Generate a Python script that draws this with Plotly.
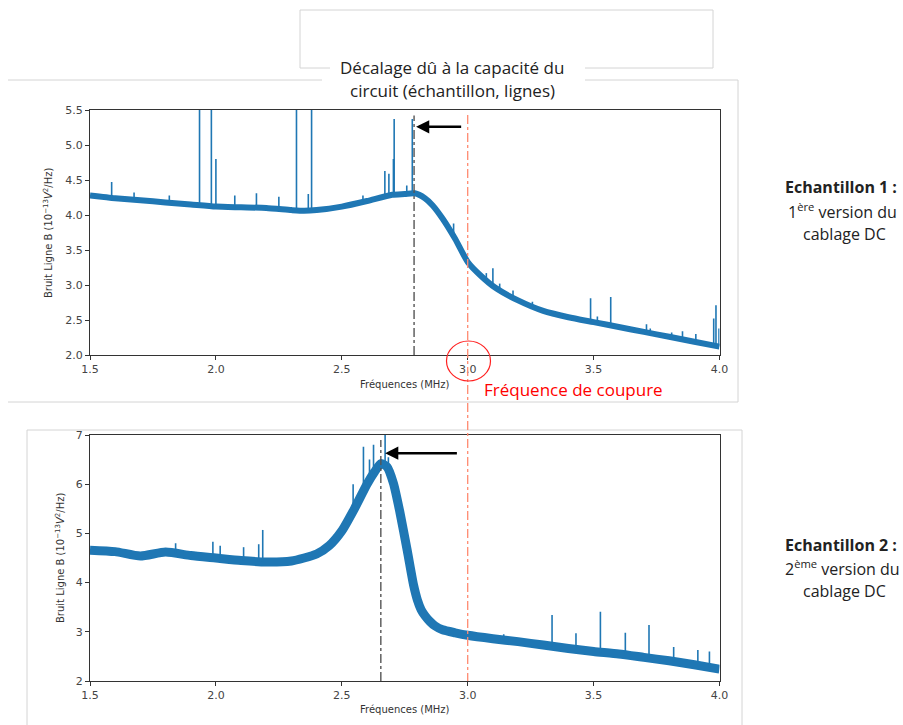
import numpy as np
import plotly.graph_objects as go

# ---------------- data ----------------
# Sample 1 (top) baseline spectrum, MHz -> 1e-13 V^2/Hz
freq_top = [1.5, 1.6, 1.7, 1.8, 1.9, 2.0, 2.1, 2.2, 2.3, 2.35, 2.4, 2.5, 2.6, 2.7, 2.75, 2.79,
            2.83, 2.86, 2.9, 2.95, 3.0, 3.05, 3.11, 3.2, 3.3, 3.4, 3.5, 3.6, 3.7, 3.8, 3.9, 4.0]
noise_top = [4.28, 4.24, 4.21, 4.18, 4.15, 4.12, 4.11, 4.10, 4.07, 4.06, 4.07, 4.12, 4.20, 4.29, 4.30, 4.31,
             4.24, 4.14, 3.95, 3.66, 3.33, 3.14, 2.96, 2.78, 2.63, 2.54, 2.47, 2.40, 2.33, 2.26, 2.19, 2.12]
spike_f_top = [1.586, 1.675, 1.815, 1.935, 1.982, 2.0, 2.075, 2.161, 2.25, 2.32, 2.367, 2.38, 2.584,
               2.671, 2.687, 2.705, 2.708, 2.758, 2.78, 2.944, 3.074, 3.1, 3.127, 3.18, 3.257, 3.488,
               3.515, 3.568, 3.71, 3.725, 3.81, 3.853, 3.906, 3.977, 3.986, 3.998]
spike_v_top = [4.47, 4.32, 4.28, 5.8, 5.8, 4.80, 4.28, 4.31, 4.26, 5.8, 4.30, 5.8, 4.28,
               4.63, 4.59, 4.80, 5.37, 4.42, 5.37, 3.88, 3.17, 3.24, 3.02, 2.92, 2.76, 2.81,
               2.55, 2.83, 2.44, 2.38, 2.32, 2.34, 2.30, 2.52, 2.71, 2.38]

# Sample 2 (bottom)
freq_bot = [1.5, 1.6, 1.7, 1.8, 1.9, 2.0, 2.1, 2.2, 2.3, 2.35, 2.4, 2.45, 2.5, 2.55, 2.6, 2.63, 2.655,
            2.68, 2.705, 2.73, 2.76, 2.785, 2.8, 2.815, 2.83, 2.85, 2.87, 2.9, 2.95, 3.0, 3.1, 3.2, 3.3,
            3.4, 3.5, 3.6, 3.7, 3.8, 3.9, 4.0]
noise_bot = [4.66, 4.63, 4.54, 4.62, 4.55, 4.50, 4.45, 4.42, 4.44, 4.50, 4.58, 4.75, 5.05, 5.50, 6.00,
             6.25, 6.42, 6.35, 6.02, 5.45, 4.65, 3.95, 3.65, 3.45, 3.33, 3.21, 3.12, 3.04, 2.98, 2.93,
             2.86, 2.80, 2.73, 2.66, 2.60, 2.55, 2.48, 2.41, 2.33, 2.24]
spike_f_bot = [1.84, 1.988, 2.017, 2.11, 2.17, 2.186, 2.545, 2.586, 2.61, 2.626, 2.672, 2.685,
               3.143, 3.335, 3.43, 3.527, 3.626, 3.72, 3.818, 3.914, 3.96]
spike_v_bot = [4.80, 4.83, 4.75, 4.72, 4.78, 5.07, 6.0, 6.76, 6.5, 6.8, 7.3, 6.55,
               2.95, 3.34, 2.97, 3.41, 2.98, 3.14, 2.69, 2.63, 2.60]

peak_top = 2.787      # MHz, dash-dot marker sample 1
peak_bot = 2.655      # MHz, dash-dot marker sample 2
cutoff = 3.0          # MHz, cut-off frequency

x_ticks = [1.5, 2.0, 2.5, 3.0, 3.5, 4.0]
y_ticks_top = [2.0, 2.5, 3.0, 3.5, 4.0, 4.5, 5.0, 5.5]
y_ticks_bot = [2, 3, 4, 5, 6, 7]

# ---------------- helpers ----------------
W, H = 903, 725
def px(x):
    return x / W
def py(y):
    return 1 - y / H

BLUE = "#1f77b4"
GRAY = "#d4d4d4"
FONT = "DejaVu Sans"

def spikes(fs, vs, bf, bv):
    xs, ys = [], []
    base = np.interp(fs, bf, bv)
    for f, v, b in zip(fs, vs, base):
        xs += [f, f, None]
        ys += [b, v, None]
    return xs, ys

fig = go.Figure()
fig.add_trace(go.Scatter(x=freq_top, y=noise_top, mode="lines",
                         line=dict(color=BLUE, width=6, shape="spline", smoothing=0.6),
                         xaxis="x", yaxis="y", hoverinfo="skip"))
sx, sy = spikes(spike_f_top, spike_v_top, freq_top, noise_top)
fig.add_trace(go.Scatter(x=sx, y=sy, mode="lines", line=dict(color=BLUE, width=1.6),
                         xaxis="x", yaxis="y", hoverinfo="skip"))
fig.add_trace(go.Scatter(x=freq_bot, y=noise_bot, mode="lines",
                         line=dict(color=BLUE, width=9, shape="spline", smoothing=0.6),
                         xaxis="x2", yaxis="y2", hoverinfo="skip"))
sx, sy = spikes(spike_f_bot, spike_v_bot, freq_bot, noise_bot)
fig.add_trace(go.Scatter(x=sx, y=sy, mode="lines", line=dict(color=BLUE, width=1.6),
                         xaxis="x2", yaxis="y2", hoverinfo="skip"))

axis_common = dict(showline=True, linecolor="#333", linewidth=1, mirror=True, ticks="outside",
                   ticklen=4, tickcolor="#333", showgrid=False, zeroline=False, automargin=False,
                   tickfont=dict(family=FONT, size=11, color="#444"))
xdom = [px(90), px(719.5)]
fig.update_layout(
    width=W, height=H, margin=dict(l=0, r=0, t=0, b=0, autoexpand=False),
    paper_bgcolor="white", plot_bgcolor="white", showlegend=False,
    xaxis=dict(domain=xdom, range=[1.5, 4.0], tickvals=x_ticks, tickformat=".1f", anchor="y", **axis_common),
    yaxis=dict(domain=[py(355), py(110)], range=[2.0, 5.5], tickvals=y_ticks_top, tickformat=".1f",
               anchor="x", **axis_common),
    xaxis2=dict(domain=xdom, range=[1.5, 4.0], tickvals=x_ticks, tickformat=".1f", anchor="y2", **axis_common),
    yaxis2=dict(domain=[py(681), py(435)], range=[2, 7], tickvals=y_ticks_bot, anchor="x2", **axis_common),
)

shapes = []
def seg(x0, y0, x1, y1, color=GRAY, width=1):
    shapes.append(dict(type="line", xref="paper", yref="paper", x0=px(x0), y0=py(y0), x1=px(x1), y1=py(y1),
                       line=dict(color=color, width=width)))

# image frames (light gray)
seg(300, 10, 713, 10); seg(300, 10, 300, 68); seg(713, 10, 713, 68)
seg(300, 68, 330, 68); seg(585, 68, 713, 68)
seg(8, 80, 322, 80); seg(585, 80, 738, 80); seg(738, 80, 738, 402); seg(8, 402, 738, 402)
seg(27, 430, 742, 430); seg(27, 430, 27, 725); seg(742, 430, 742, 725)

# dash-dot markers
shapes.append(dict(type="line", xref="x", yref="y", x0=peak_top, x1=peak_top, y0=2.0, y1=5.42,
                   line=dict(color="#555", width=1.4, dash="dashdot")))
shapes.append(dict(type="line", xref="x2", yref="y2", x0=peak_bot, x1=peak_bot, y0=2.0, y1=6.9,
                   line=dict(color="#555", width=1.4, dash="dashdot")))
cut_px = 90 + (cutoff - 1.5) / 2.5 * 629.5
shapes.append(dict(type="line", xref="paper", yref="paper", x0=px(cut_px), x1=px(cut_px),
                   y0=py(115), y1=py(681), line=dict(color="#ff8a70", width=1.3, dash="dashdot")))
shapes.append(dict(type="circle", xref="paper", yref="paper", x0=px(446.5), x1=px(490.5),
                   y0=py(381), y1=py(341), line=dict(color="#ff2020", width=1.2)))

annotations = []
def txt(x, y, s, size=15, color="#222", family="Open Sans", **kw):
    annotations.append(dict(x=px(x), y=py(y), xref="paper", yref="paper", text=s, showarrow=False,
                            font=dict(size=size, color=color, family=family), xanchor="center",
                            yanchor="middle", **kw))

txt(452, 68, "Décalage dû à la capacité du", size=17, bgcolor="white")
txt(452, 91, "circuit (échantillon, lignes)", size=17)
txt(573, 389, "Fréquence de coupure", size=17, color="#ff0000")
txt(841, 187, "<b>Echantillon 1 :</b>", size=16)
txt(842, 211, "1<sup>ère</sup> version du", size=16)
txt(844, 234, "cablage DC", size=16)
txt(841, 545, "<b>Echantillon 2 :</b>", size=16)
txt(842, 568, "2<sup>ème</sup> version du", size=16)
txt(844, 591, "cablage DC", size=16)

ylab = "Bruit Ligne B (10<sup>−13</sup><i>V</i><sup>2</sup>/Hz)"
txt(48, 233, ylab, size=10, color="#333", family=FONT, textangle=-90)
txt(60, 558, ylab, size=10, color="#333", family=FONT, textangle=-90)
txt(405, 384, "Fréquences (MHz)", size=10, color="#333", family=FONT)
txt(405, 709, "Fréquences (MHz)", size=10, color="#333", family=FONT)

# arrows
annotations.append(dict(x=2.795, y=5.26, xref="x", yref="y", ax=2.98, ay=5.26, axref="x", ayref="y",
                        text="", showarrow=True, arrowhead=2, arrowsize=1.1, arrowwidth=2.4,
                        arrowcolor="black"))
annotations.append(dict(x=2.672, y=6.63, xref="x2", yref="y2", ax=2.963, ay=6.63, axref="x2", ayref="y2",
                        text="", showarrow=True, arrowhead=2, arrowsize=1.1, arrowwidth=2.4,
                        arrowcolor="black"))

fig.update_layout(shapes=shapes, annotations=annotations)
fig.write_html("out.html", config={"displayModeBar": False},
               post_script="document.body.style.margin='0';document.body.style.overflow='hidden';")
